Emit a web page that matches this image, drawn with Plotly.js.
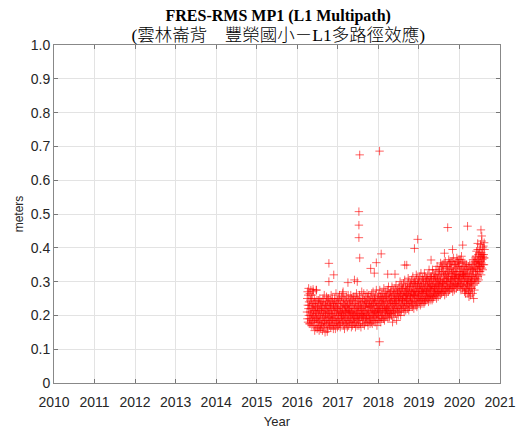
<!DOCTYPE html>
<html><head><meta charset="utf-8">
<script src="https://cdn.plot.ly/plotly-3.0.1.min.js"></script>
<style>html,body{margin:0;padding:0;background:#fff}#chart{width:520px;height:430px}</style>
</head><body><div id="chart"></div>
<script>
// Daily L1 multipath RMS (meters)
const mp1Year = [
2016.24,2016.245,2016.25,2016.255,2016.26,2016.265,2016.27,2016.275,2016.28,2016.285,2016.29,2016.295,
2016.30,2016.305,2016.31,2016.315,2016.32,2016.325,2016.33,2016.335,2016.34,2016.345,2016.35,2016.355,2016.36,2016.365,2016.37,2016.375,2016.38,2016.385,2016.39,2016.395,
2016.40,2016.405,2016.41,2016.415,2016.42,2016.425,2016.43,2016.435,2016.44,2016.445,2016.45,2016.455,2016.46,2016.465,2016.47,2016.475,2016.48,2016.485,2016.49,2016.495,
2016.50,2016.505,2016.51,2016.515,2016.52,2016.525,2016.53,2016.535,2016.54,2016.545,2016.55,2016.555,2016.56,2016.565,2016.57,2016.575,2016.58,2016.585,2016.59,2016.595,
2016.60,2016.605,2016.61,2016.615,2016.62,2016.625,2016.63,2016.635,2016.64,2016.645,2016.65,2016.655,2016.66,2016.665,2016.67,2016.675,2016.68,2016.685,2016.69,2016.695,
2016.70,2016.705,2016.71,2016.715,2016.72,2016.725,2016.73,2016.735,2016.74,2016.745,2016.75,2016.755,2016.76,2016.765,2016.77,2016.775,2016.78,2016.785,2016.79,2016.795,
2016.80,2016.805,2016.81,2016.815,2016.82,2016.825,2016.83,2016.835,2016.84,2016.845,2016.85,2016.855,2016.86,2016.865,2016.87,2016.875,2016.88,2016.885,2016.89,2016.895,
2016.90,2016.905,2016.91,2016.915,2016.92,2016.925,2016.93,2016.935,2016.94,2016.945,2016.95,2016.955,2016.96,2016.965,2016.97,2016.975,2016.98,2016.985,2016.99,2016.995,
2017.00,2017.005,2017.01,2017.015,2017.02,2017.025,2017.03,2017.035,2017.04,2017.045,2017.05,2017.055,2017.06,2017.065,2017.07,2017.075,2017.08,2017.085,2017.09,2017.095,
2017.10,2017.105,2017.11,2017.115,2017.12,2017.125,2017.13,2017.135,2017.14,2017.145,2017.15,2017.155,2017.16,2017.165,2017.17,2017.175,2017.18,2017.185,2017.19,2017.195,
2017.20,2017.205,2017.21,2017.215,2017.22,2017.225,2017.23,2017.235,2017.24,2017.245,2017.25,2017.255,2017.26,2017.265,2017.27,2017.275,2017.28,2017.285,2017.29,2017.295,
2017.30,2017.305,2017.31,2017.315,2017.32,2017.325,2017.33,2017.335,2017.34,2017.345,2017.35,2017.355,2017.36,2017.365,2017.37,2017.375,2017.38,2017.385,2017.39,2017.395,
2017.40,2017.405,2017.41,2017.415,2017.42,2017.425,2017.43,2017.435,2017.44,2017.445,2017.45,2017.455,2017.46,2017.465,2017.47,2017.475,2017.48,2017.485,2017.49,2017.495,
2017.50,2017.505,2017.51,2017.515,2017.52,2017.525,2017.53,2017.535,2017.54,2017.545,2017.55,2017.555,2017.56,2017.565,2017.57,2017.575,2017.58,2017.585,2017.59,2017.595,
2017.60,2017.605,2017.61,2017.615,2017.62,2017.625,2017.63,2017.635,2017.64,2017.645,2017.65,2017.655,2017.66,2017.665,2017.67,2017.675,2017.68,2017.685,2017.69,2017.695,
2017.70,2017.705,2017.71,2017.715,2017.72,2017.725,2017.73,2017.735,2017.74,2017.745,2017.75,2017.755,2017.76,2017.765,2017.77,2017.775,2017.78,2017.785,2017.79,2017.795,
2017.80,2017.805,2017.81,2017.815,2017.82,2017.825,2017.83,2017.835,2017.84,2017.845,2017.85,2017.855,2017.86,2017.865,2017.87,2017.875,2017.88,2017.885,2017.89,2017.895,
2017.90,2017.905,2017.91,2017.915,2017.92,2017.925,2017.93,2017.935,2017.94,2017.945,2017.95,2017.955,2017.96,2017.965,2017.97,2017.975,2017.98,2017.985,2017.99,2017.995,
2018.00,2018.005,2018.01,2018.015,2018.02,2018.025,2018.03,2018.035,2018.04,2018.045,2018.05,2018.055,2018.06,2018.065,2018.07,2018.075,2018.08,2018.085,2018.09,2018.095,
2018.10,2018.105,2018.11,2018.115,2018.12,2018.125,2018.13,2018.135,2018.14,2018.145,2018.15,2018.155,2018.16,2018.165,2018.17,2018.175,2018.18,2018.185,2018.19,2018.195,
2018.20,2018.205,2018.21,2018.215,2018.22,2018.225,2018.23,2018.235,2018.24,2018.245,2018.25,2018.255,2018.26,2018.265,2018.27,2018.275,2018.28,2018.285,2018.29,2018.295,
2018.30,2018.305,2018.31,2018.315,2018.32,2018.325,2018.33,2018.335,2018.34,2018.345,2018.35,2018.355,2018.36,2018.365,2018.37,2018.375,2018.38,2018.385,2018.39,2018.395,
2018.40,2018.405,2018.41,2018.415,2018.42,2018.425,2018.43,2018.435,2018.44,2018.445,2018.45,2018.455,2018.46,2018.465,2018.47,2018.475,2018.48,2018.485,2018.49,2018.495,
2018.50,2018.505,2018.51,2018.515,2018.52,2018.525,2018.53,2018.535,2018.54,2018.545,2018.55,2018.555,2018.56,2018.565,2018.57,2018.575,2018.58,2018.585,2018.59,2018.595,
2018.60,2018.605,2018.61,2018.615,2018.62,2018.625,2018.63,2018.635,2018.64,2018.645,2018.65,2018.655,2018.66,2018.665,2018.67,2018.675,2018.68,2018.685,2018.69,2018.695,
2018.70,2018.705,2018.71,2018.715,2018.72,2018.725,2018.73,2018.735,2018.74,2018.745,2018.75,2018.755,2018.76,2018.765,2018.77,2018.775,2018.78,2018.785,2018.79,2018.795,
2018.80,2018.805,2018.81,2018.815,2018.82,2018.825,2018.83,2018.835,2018.84,2018.845,2018.85,2018.855,2018.86,2018.865,2018.87,2018.875,2018.88,2018.885,2018.89,2018.895,
2018.90,2018.905,2018.91,2018.915,2018.92,2018.925,2018.93,2018.935,2018.94,2018.945,2018.95,2018.955,2018.96,2018.965,2018.97,2018.975,2018.98,2018.985,2018.99,2018.995,
2019.00,2019.005,2019.01,2019.015,2019.02,2019.025,2019.03,2019.035,2019.04,2019.045,2019.05,2019.055,2019.06,2019.065,2019.07,2019.075,2019.08,2019.085,2019.09,2019.095,
2019.10,2019.105,2019.11,2019.115,2019.12,2019.125,2019.13,2019.135,2019.14,2019.145,2019.15,2019.155,2019.16,2019.165,2019.17,2019.175,2019.18,2019.185,2019.19,2019.195,
2019.20,2019.205,2019.21,2019.215,2019.22,2019.225,2019.23,2019.235,2019.24,2019.245,2019.25,2019.255,2019.26,2019.265,2019.27,2019.275,2019.28,2019.285,2019.29,2019.295,
2019.30,2019.305,2019.31,2019.315,2019.32,2019.325,2019.33,2019.335,2019.34,2019.345,2019.35,2019.355,2019.36,2019.365,2019.37,2019.375,2019.38,2019.385,2019.39,2019.395,
2019.40,2019.405,2019.41,2019.415,2019.42,2019.425,2019.43,2019.435,2019.44,2019.445,2019.45,2019.455,2019.46,2019.465,2019.47,2019.475,2019.48,2019.485,2019.49,2019.495,
2019.50,2019.505,2019.51,2019.515,2019.52,2019.525,2019.53,2019.535,2019.54,2019.545,2019.55,2019.555,2019.56,2019.565,2019.57,2019.575,2019.58,2019.585,2019.59,2019.595,
2019.60,2019.605,2019.61,2019.615,2019.62,2019.625,2019.63,2019.635,2019.64,2019.645,2019.65,2019.655,2019.66,2019.665,2019.67,2019.675,2019.68,2019.685,2019.69,2019.695,
2019.70,2019.705,2019.71,2019.715,2019.72,2019.725,2019.73,2019.735,2019.74,2019.745,2019.75,2019.755,2019.76,2019.765,2019.77,2019.775,2019.78,2019.785,2019.79,2019.795,
2019.80,2019.805,2019.81,2019.815,2019.82,2019.825,2019.83,2019.835,2019.84,2019.845,2019.85,2019.855,2019.86,2019.865,2019.87,2019.875,2019.88,2019.885,2019.89,2019.895,
2019.90,2019.905,2019.91,2019.915,2019.92,2019.925,2019.93,2019.935,2019.94,2019.945,2019.95,2019.955,2019.96,2019.965,2019.97,2019.975,2019.98,2019.985,2019.99,2019.995,
2020.00,2020.005,2020.01,2020.015,2020.02,2020.025,2020.03,2020.035,2020.04,2020.045,2020.05,2020.055,2020.06,2020.065,2020.07,2020.075,2020.08,2020.085,2020.09,2020.095,
2020.10,2020.105,2020.11,2020.115,2020.12,2020.125,2020.13,2020.135,2020.14,2020.145,2020.15,2020.155,2020.16,2020.165,2020.17,2020.175,2020.18,2020.185,2020.19,2020.195,
2020.20,2020.205,2020.21,2020.215,2020.22,2020.225,2020.23,2020.235,2020.24,2020.245,2020.25,2020.255,2020.26,2020.265,2020.27,2020.275,2020.28,2020.285,2020.29,2020.295,
2020.30,2020.305,2020.31,2020.315,2020.32,2020.325,2020.33,2020.335,2020.34,2020.345,2020.35,2020.355,2020.36,2020.365,2020.37,2020.375,2020.38,2020.385,2020.39,2020.395,
2020.40,2020.405,2020.41,2020.415,2020.42,2020.425,2020.43,2020.435,2020.44,2020.445,2020.45,2020.455,2020.46,2020.465,2020.47,2020.475,2020.48,2020.485,2020.49,2020.495,
2020.50,2020.505,2020.51,2020.515,2020.52,2020.525,2020.53,2020.535,2020.54,2020.545,2020.55,2020.555,2020.56,2020.565,2020.57,2020.575,2020.58,2020.585,2020.59,2020.595,
2020.60,2020.605,2020.61,2020.615,2020.62
];
const mp1Rms = [
0.21,0.25,0.19,0.27,0.23,0.18,0.26,0.22,0.28,0.20,0.24,0.175,
0.23,0.19,0.265,0.21,0.175,0.245,0.2,0.275,0.22,0.185,0.25,0.205,0.17,0.235,0.26,0.195,0.225,0.18,0.215,0.27,
0.2,0.235,0.17,0.215,0.25,0.185,0.155,0.225,0.195,0.24,0.21,0.165,0.23,0.19,0.275,0.205,0.18,0.245,0.16,0.22,
0.19,0.225,0.165,0.21,0.245,0.18,0.2,0.235,0.155,0.215,0.185,0.25,0.17,0.205,0.23,0.16,0.195,0.24,0.175,0.22,
0.215,0.17,0.24,0.19,0.155,0.225,0.2,0.25,0.18,0.21,0.165,0.235,0.195,0.26,0.175,0.22,0.185,0.15,0.205,0.23,
0.2,0.24,0.175,0.215,0.255,0.185,0.23,0.16,0.21,0.245,0.19,0.225,0.165,0.205,0.25,0.18,0.22,0.195,0.235,0.17,
0.21,0.18,0.245,0.195,0.23,0.165,0.22,0.26,0.185,0.205,0.24,0.17,0.215,0.19,0.25,0.2,0.175,0.235,0.16,0.225,
0.195,0.23,0.17,0.215,0.25,0.185,0.205,0.24,0.16,0.225,0.19,0.265,0.175,0.21,0.235,0.18,0.2,0.245,0.165,0.22,
0.22,0.185,0.25,0.2,0.17,0.235,0.21,0.19,0.26,0.175,0.215,0.245,0.165,0.205,0.23,0.18,0.225,0.195,0.255,0.2,
0.205,0.24,0.18,0.22,0.265,0.19,0.21,0.17,0.235,0.2,0.25,0.185,0.215,0.16,0.23,0.195,0.245,0.175,0.21,0.225,
0.19,0.225,0.255,0.175,0.21,0.24,0.2,0.165,0.23,0.185,0.215,0.26,0.195,0.22,0.17,0.245,0.205,0.18,0.235,0.21,
0.215,0.18,0.24,0.2,0.26,0.19,0.225,0.165,0.21,0.25,0.185,0.23,0.205,0.17,0.245,0.195,0.22,0.255,0.18,0.2,
0.2,0.235,0.175,0.22,0.19,0.255,0.21,0.165,0.24,0.195,0.23,0.18,0.265,0.205,0.215,0.17,0.25,0.19,0.225,0.2,
0.21,0.245,0.185,0.225,0.17,0.235,0.2,0.26,0.19,0.215,0.25,0.175,0.23,0.205,0.165,0.24,0.195,0.22,0.27,0.2,
0.22,0.185,0.25,0.205,0.175,0.24,0.215,0.195,0.265,0.2,0.23,0.17,0.245,0.21,0.19,0.255,0.225,0.18,0.235,0.2,
0.205,0.24,0.19,0.225,0.265,0.18,0.215,0.25,0.2,0.17,0.235,0.21,0.26,0.195,0.225,0.185,0.245,0.2,0.23,0.175,
0.225,0.19,0.255,0.21,0.24,0.18,0.23,0.265,0.2,0.215,0.175,0.245,0.22,0.195,0.27,0.205,0.235,0.185,0.25,0.21,
0.215,0.25,0.195,0.235,0.18,0.26,0.21,0.24,0.19,0.225,0.275,0.2,0.23,0.17,0.245,0.205,0.22,0.185,0.255,0.21,
0.23,0.2,0.26,0.215,0.185,0.245,0.22,0.275,0.195,0.235,0.21,0.255,0.18,0.225,0.265,0.2,0.24,0.19,0.25,0.215,
0.235,0.2,0.265,0.22,0.25,0.19,0.24,0.28,0.21,0.23,0.185,0.255,0.225,0.205,0.27,0.215,0.245,0.195,0.26,0.22,
0.22,0.255,0.2,0.24,0.275,0.21,0.23,0.19,0.26,0.225,0.285,0.205,0.245,0.215,0.265,0.195,0.235,0.25,0.21,0.27,
0.24,0.205,0.27,0.225,0.255,0.2,0.245,0.285,0.215,0.235,0.18,0.26,0.23,0.21,0.275,0.22,0.25,0.195,0.265,0.235,
0.25,0.215,0.28,0.235,0.205,0.26,0.24,0.29,0.22,0.245,0.185,0.27,0.23,0.255,0.21,0.275,0.225,0.265,0.2,0.245,
0.255,0.22,0.285,0.24,0.27,0.21,0.25,0.3,0.225,0.26,0.2,0.275,0.235,0.265,0.215,0.29,0.245,0.23,0.28,0.25,
0.245,0.28,0.22,0.26,0.295,0.23,0.255,0.21,0.27,0.24,0.305,0.225,0.265,0.25,0.285,0.215,0.26,0.235,0.275,0.245,
0.265,0.23,0.29,0.25,0.28,0.22,0.26,0.31,0.235,0.27,0.215,0.3,0.245,0.275,0.225,0.285,0.255,0.24,0.295,0.26,
0.255,0.29,0.235,0.27,0.305,0.24,0.265,0.225,0.285,0.25,0.315,0.23,0.275,0.26,0.295,0.22,0.27,0.245,0.3,0.26,
0.275,0.24,0.3,0.26,0.29,0.23,0.27,0.32,0.245,0.28,0.225,0.31,0.255,0.285,0.235,0.295,0.265,0.25,0.305,0.27,
0.26,0.295,0.24,0.28,0.315,0.25,0.27,0.23,0.29,0.255,0.325,0.245,0.285,0.265,0.3,0.235,0.275,0.25,0.31,0.27,
0.28,0.245,0.305,0.265,0.295,0.235,0.275,0.325,0.25,0.285,0.24,0.315,0.26,0.29,0.245,0.3,0.27,0.255,0.31,0.275,
0.27,0.305,0.25,0.29,0.32,0.26,0.28,0.24,0.3,0.265,0.335,0.255,0.295,0.275,0.31,0.245,0.285,0.26,0.315,0.28,
0.29,0.255,0.315,0.275,0.305,0.245,0.285,0.335,0.26,0.295,0.25,0.325,0.27,0.3,0.255,0.31,0.28,0.265,0.32,0.285,
0.28,0.315,0.26,0.3,0.335,0.27,0.29,0.25,0.31,0.275,0.345,0.265,0.305,0.285,0.32,0.255,0.295,0.27,0.33,0.29,
0.305,0.27,0.335,0.29,0.32,0.26,0.3,0.355,0.275,0.31,0.265,0.345,0.285,0.325,0.27,0.34,0.295,0.28,0.35,0.3,
0.295,0.33,0.27,0.315,0.355,0.28,0.305,0.26,0.325,0.29,0.36,0.275,0.32,0.3,0.34,0.265,0.31,0.285,0.345,0.3,
0.32,0.28,0.345,0.3,0.33,0.27,0.31,0.365,0.285,0.325,0.275,0.355,0.295,0.335,0.28,0.35,0.305,0.29,0.36,0.315,
0.305,0.34,0.28,0.325,0.36,0.29,0.315,0.27,0.335,0.3,0.37,0.285,0.33,0.31,0.35,0.275,0.32,0.295,0.355,0.31,
0.325,0.29,0.35,0.31,0.34,0.28,0.32,0.37,0.295,0.33,0.285,0.36,0.305,0.345,0.29,0.355,0.315,0.3,0.365,0.32,
0.31,0.345,0.285,0.33,0.365,0.295,0.32,0.275,0.34,0.305,0.375,0.29,0.335,0.315,0.355,0.28,0.325,0.3,0.36,0.32,
0.32,0.285,0.345,0.3,0.33,0.27,0.31,0.355,0.28,0.315,0.265,0.34,0.295,0.325,0.275,0.35,0.305,0.29,0.335,0.3,
0.29,0.325,0.265,0.31,0.345,0.275,0.3,0.255,0.32,0.285,0.35,0.27,0.315,0.295,0.335,0.26,0.305,0.28,0.34,0.3,
0.315,0.28,0.35,0.3,0.335,0.265,0.32,0.365,0.29,0.33,0.25,0.355,0.305,0.34,0.275,0.36,0.31,0.295,0.37,0.325,
0.34,0.375,0.31,0.355,0.39,0.32,0.345,0.3,0.365,0.335,0.395,0.315,0.36,0.35,0.38,0.305,0.355,0.33,0.385,0.345,
0.36,0.395,0.33,0.375,0.41,0.345,0.37,0.32,0.385,0.355,0.42,0.34,0.38,0.365,0.4,0.335,0.375,0.35,0.405,0.37,
0.38,0.35,0.415,0.37,0.395
];
// Isolated high / low days
const spikeYear = [2016.78,2016.78,2016.9,2016.74,2016.39,2016.47,2017.13,2017.25,2017.41,2017.48,2017.54,2017.52,2017.52,2017.52,2017.54,2018.03,2018.03,2018.07,2017.95,2017.81,2017.9,2018.65,2018.7,2018.23,2018.41,2019.3,2018.97,2018.89,2019.71,2020.2,2020.53,2020.55,2019.63,2019.83,2020.08,2020.45];
const spikeRms  = [0.354,0.30,0.32,0.152,0.277,0.275,0.27,0.297,0.305,0.30,0.675,0.507,0.467,0.43,0.37,0.686,0.122,0.382,0.356,0.339,0.325,0.349,0.349,0.322,0.322,0.364,0.425,0.398,0.46,0.464,0.453,0.435,0.384,0.395,0.408,0.413];

const yearTicks = [2010,2011,2012,2013,2014,2015,2016,2017,2018,2019,2020,2021];
const meterTicks = [0,0.1,0.2,0.3,0.4,0.5,0.6,0.7,0.8,0.9,1.0];
const meterLabels = ['0','0.1','0.2','0.3','0.4','0.5','0.6','0.7','0.8','0.9','1.0'];
const titleLine1 = 'FRES-RMS MP1 (L1 Multipath)';
const titleLine2 = '(雲林崙背　豐榮國小－L1多路徑效應)';

const trace = {
  x: mp1Year.concat(spikeYear),
  y: mp1Rms.concat(spikeRms),
  type: 'scatter', mode: 'markers',
  marker: {symbol: 'cross-thin-open', size: 6, line: {width: 1, color: 'rgba(255,0,0,0.62)'}, color: 'rgba(255,0,0,0.62)'},
  hoverinfo: 'skip'
};
const axisFont = {family: 'Liberation Sans, Arial, sans-serif', size: 14, color: '#262626'};
const layout = {
  width: 520, height: 430,
  margin: {l: 54, r: 20, t: 45, b: 47},
  paper_bgcolor: '#fff', plot_bgcolor: '#fff',
  showlegend: false,
  title: {
    text: '<b>' + titleLine1 + '</b><br><span style="font-size:17.5px;font-weight:300">' + titleLine2 + '</span>',
    x: 0.535, xanchor: 'center', y: 0.952, yanchor: 'top',
    font: {family: 'Liberation Serif, "Times New Roman", "Noto Sans CJK TC", serif', size: 16, color: '#000'}
  },
  xaxis: {
    range: [2010, 2021], tickvals: yearTicks, ticktext: yearTicks.map(String),
    tickfont: axisFont, ticks: 'inside', ticklen: 4, tickcolor: '#777', ticklabelstandoff: 6,
    showline: true, linecolor: '#888', linewidth: 1, mirror: 'ticks',
    showgrid: true, gridcolor: '#e3e3e3', zeroline: false,
    title: {text: 'Year', font: {family: 'Liberation Sans, Arial, sans-serif', size: 13, color: '#262626'}, standoff: 8}
  },
  yaxis: {
    range: [0, 1], tickvals: meterTicks, ticktext: meterLabels,
    tickfont: axisFont, ticks: 'inside', ticklen: 4, tickcolor: '#777',
    showline: true, linecolor: '#888', linewidth: 1, mirror: 'ticks',
    showgrid: true, gridcolor: '#e3e3e3', zeroline: false,
    title: {text: 'meters', font: {family: 'Liberation Sans, Arial, sans-serif', size: 12, color: '#262626'}, standoff: 4}
  }
};
Plotly.newPlot('chart', [trace], layout, {staticPlot: true, displayModeBar: false});
</script>
</body></html>
